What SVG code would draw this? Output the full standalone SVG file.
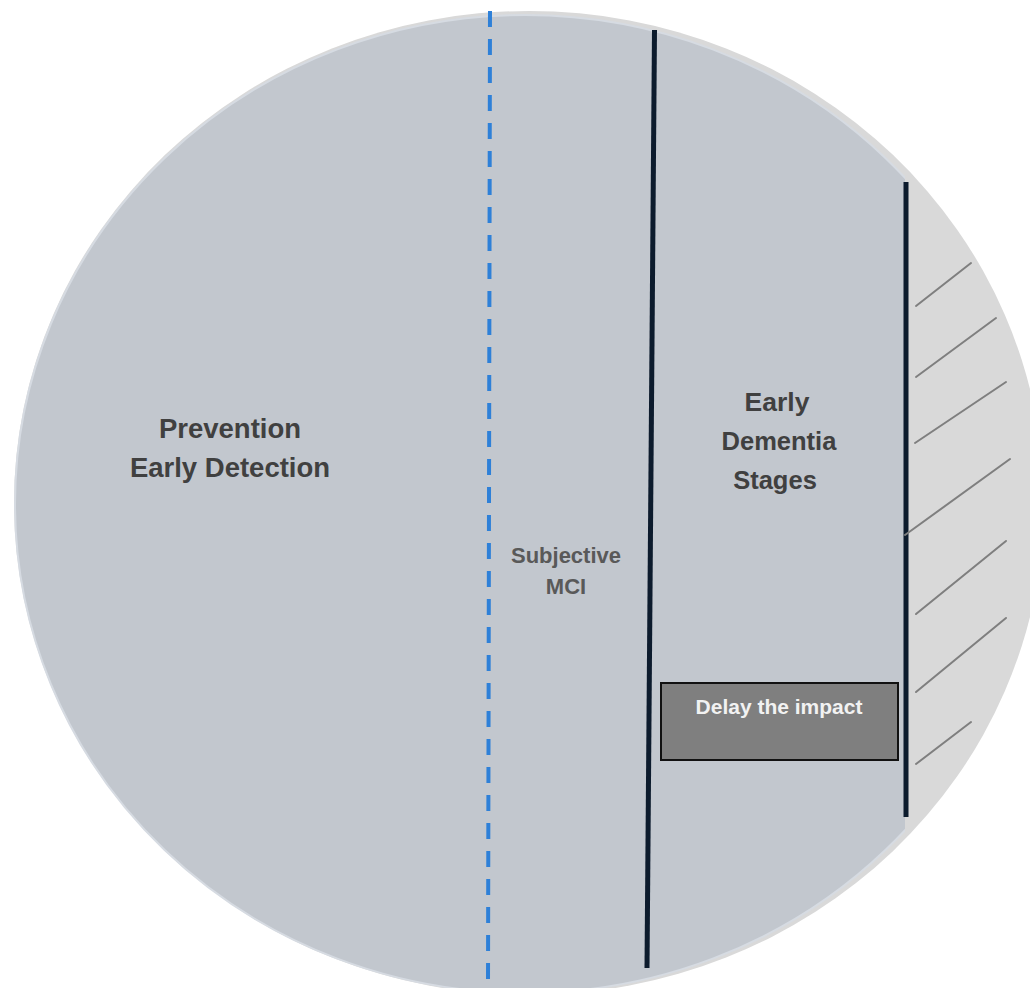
<svg xmlns="http://www.w3.org/2000/svg" width="1030" height="988" viewBox="0 0 1030 988">
  <defs>
    <clipPath id="leftClip"><rect x="0" y="0" width="905" height="988"/></clipPath>
    <style>
      .main { font-family: "Liberation Sans", Arial, sans-serif; font-weight: bold; text-anchor: middle; }
      .dark { fill: #404040; font-size: 27.5px; }
      .sub { fill: #595959; font-size: 22px; }
      .box { fill: #f2f2f2; font-size: 21px; }
      .hatch { stroke: #7f7f7f; stroke-width: 2; stroke-linecap: round; }
      .divider { stroke: #0c1b2d; stroke-width: 5; }
    </style>
  </defs>
  <rect width="1030" height="988" fill="#ffffff"/>
  <g id="background">
    <ellipse cx="529" cy="503" rx="515" ry="492" fill="#d9d9d9"/>
    <ellipse cx="525" cy="504" rx="510" ry="489" fill="#c2c7ce" stroke="#d6dbe2" stroke-width="2" clip-path="url(#leftClip)"/>
  </g>
  <g id="connectors">
    <line x1="490" y1="11" x2="488" y2="988" stroke="#2e80d8" stroke-width="4" stroke-dasharray="16 12"/>
    <line class="divider" x1="654.5" y1="30" x2="647" y2="968"/>
    <line class="divider" x1="906" y1="182" x2="906" y2="817"/>
    <line class="hatch" x1="916" y1="306" x2="971" y2="263"/>
    <line class="hatch" x1="916" y1="377" x2="996" y2="318"/>
    <line class="hatch" x1="915" y1="443" x2="1006" y2="382"/>
    <line class="hatch" x1="905" y1="535" x2="1010" y2="459"/>
    <line class="hatch" x1="916" y1="614" x2="1006" y2="541"/>
    <line class="hatch" x1="916" y1="692" x2="1006" y2="618"/>
    <line class="hatch" x1="916" y1="764" x2="971" y2="722"/>
  </g>
  <g id="prevention">
    <text class="main dark" x="230" y="437.5">Prevention</text>
    <text class="main dark" x="230" y="476.5">Early Detection</text>
  </g>
  <g id="subjective-mci">
    <text class="main sub" x="566" y="562.5">Subjective</text>
    <text class="main sub" x="566" y="594">MCI</text>
  </g>
  <g id="early-dementia">
    <text class="main dark" x="777" y="411" style="font-size:26.5px">Early</text>
    <text class="main dark" x="779" y="449.5" style="font-size:25.5px">Dementia</text>
    <text class="main dark" x="775" y="488.5" style="font-size:25.5px">Stages</text>
  </g>
  <g id="delay-impact">
    <rect x="661" y="683" width="237" height="77" fill="#7f7f7f" stroke="#111111" stroke-width="2"/>
    <text class="main box" x="779" y="714">Delay the impact</text>
  </g>
</svg>
